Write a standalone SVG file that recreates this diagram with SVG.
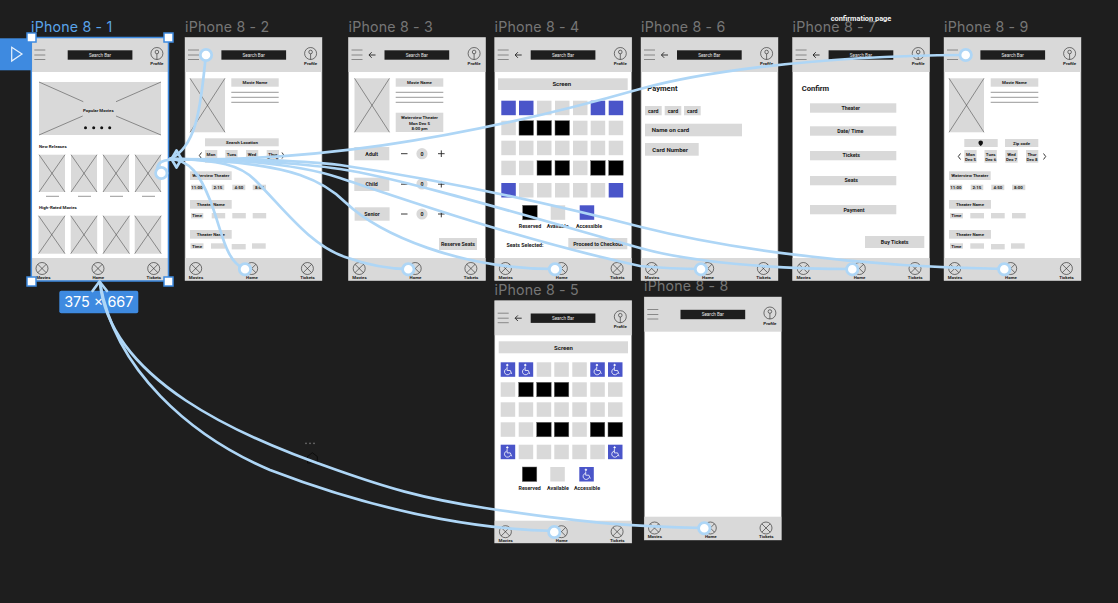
<svg xmlns="http://www.w3.org/2000/svg" width="1118" height="603" viewBox="0 0 1118 603">
<style>
text{font-family:"Roboto","Liberation Sans",sans-serif}
.lab{font-family:"Inter","Liberation Sans",sans-serif;font-size:14.2px;fill:#767676;letter-spacing:.2px}
.sel{fill:#5aa4ea}
.t{font-size:4.4px;font-weight:700;fill:#1a1a1a;text-anchor:middle}
.t5{font-size:5.3px;font-weight:700;fill:#1a1a1a;text-anchor:middle}
.t6{font-size:6px;font-weight:700;fill:#1a1a1a}
.h{font-size:7.6px;font-weight:700;fill:#1a1a1a}
.sb{font-size:4.6px;fill:#e6e6e6;text-anchor:middle}
.g{fill:#d9d9d9}
.w{fill:#fff}
.frame{fill:#fff;stroke:#8b8b8b;stroke-width:.7}
.l{fill:none;stroke:#444;stroke-width:.55}
.i{fill:none;stroke:#222;stroke-width:.6}
.op{fill:none;stroke:#222;stroke-width:.9}
.c{fill:none;stroke:#aed6f6;stroke-width:2.7;stroke-linecap:round;stroke-linejoin:round}
.hs{fill:#fff;stroke:#aed6f6;stroke-width:2.8}
.hd{fill:#fff;stroke:#3e8ae0;stroke-width:1.5}
</style>
<defs>
<g id="burger" class="l"><path d="M3 12.5H14M3 17.5H14M3 22H14"/></g>
<g id="back" class="op"><path d="M20.5 17.5H27M23.2 14.7L20.4 17.5L23.2 20.3"/></g>
<g id="prof" class="i"><circle cx="125.6" cy="16" r="6"/><circle cx="125.6" cy="14.5" r="1.8"/><path d="M125.6 16.3V22"/></g>
<g id="xc" class="i"><circle r="6"/><path d="M-4.2 -4.2L4.2 4.2M4.2 -4.2L-4.2 4.2"/></g>
<g id="poster"><rect class="g" width="35" height="54"/><path class="l" d="M0 0L35 54M35 0L0 54"/></g>
<g id="tile"><rect class="g" width="26" height="37.3"/><path class="l" d="M0 0L26 37.3M26 0L0 37.3"/></g>
<g id="tile2"><rect class="g" width="26.5" height="38"/><path class="l" d="M0 0L26.5 38M26.5 0L0 38"/></g>
<rect id="sg" class="g" width="14.5" height="14.5"/>
<rect id="sk" width="14.5" height="14.5" fill="#000" stroke="#666" stroke-width=".5"/>
<rect id="sb" width="14.5" height="14.5" fill="#4a55c9"/>
<g id="sw"><rect width="14.5" height="14.5" fill="#4a55c9"/><g transform="translate(7.2 7.4)" fill="none" stroke="#fff" stroke-width=".8"><circle cx="-.6" cy="-4.6" r=".8" fill="#fff"/><path d="M-.8 -3V.8H2.4L3.8 4.2"/><path d="M-1.2 -1A3.1 3.1 0 1 0 2.6 3"/></g></g>
</defs>
<rect width="1118" height="603" fill="#1e1e1e"/>
<text class="lab sel" x="31" y="32">iPhone 8 - 1</text>
<text class="lab" x="185" y="32">iPhone 8 - 2</text>
<text class="lab" x="348.5" y="32">iPhone 8 - 3</text>
<text class="lab" x="494.5" y="32">iPhone 8 - 4</text>
<text class="lab" x="641" y="32">iPhone 8 - 6</text>
<text class="lab" x="792.5" y="32">iPhone 8 - 7</text>
<text class="lab" x="944" y="32">iPhone 8 - 9</text>
<text class="lab" x="494.5" y="295">iPhone 8 - 5</text>
<text class="lab" x="644" y="291">iPhone 8 - 8</text>
<text x="861" y="20.5" font-size="7.4" font-weight="700" fill="#f2f2f2" text-anchor="middle">confirmation page</text>

<g id="iphone-8-1" transform="translate(31.3 37.5)">
<rect class="frame" width="137" height="243"/><rect class="g" width="137" height="34.5"/><rect class="g" y="220.5" width="137" height="22.5"/>
<use href="#burger"/><rect x="36.4" y="12.8" width="64.7" height="9.4" fill="#1e1e1e"/><text class="sb" x="68.7" y="19">Search Bar</text><use href="#prof"/><text class="t" x="125.6" y="27.5">Profile</text>
<use href="#xc" x="10.7" y="231"/><use href="#xc" x="66.7" y="231"/><use href="#xc" x="122.4" y="231"/><text class="t" x="12" y="241">Movies</text><text class="t" x="67" y="241">Home</text><text class="t" x="122.5" y="241">Tickets</text>
<g transform="translate(-31.3 -37.5)">
<rect class="g" x="39" y="82" width="122" height="53"/><path class="l" d="M39 82L83.3 101.7M161 82L116 101.7M39 135L82.7 116M161 135L116 116"/>
<text class="t" x="98.3" y="111.5">Popular Movies</text>
<g fill="#111"><circle cx="85.5" cy="127.7" r="1.5"/><circle cx="93.7" cy="127.7" r="1.5"/><circle cx="101.7" cy="127.7" r="1.5"/><circle cx="109.7" cy="127.7" r="1.5"/></g>
<text class="t" x="39" y="148" style="text-anchor:start">New Releases</text>
<use href="#tile" x="39" y="154.7"/><use href="#tile" x="71" y="154.7"/><use href="#tile" x="103" y="154.7"/><use href="#tile" x="135" y="154.7"/>
<path class="l" d="M46 196.3H59M78 196.3H91M110 196.3H123M142 196.3H155"/>
<text class="t" x="39" y="209" style="text-anchor:start">High-Rated Movies</text>
<use href="#tile2" x="38.5" y="215.7"/><use href="#tile2" x="70.7" y="215.7"/><use href="#tile2" x="103" y="215.7"/><use href="#tile2" x="134.7" y="215.7"/>
</g>
</g>

<g id="iphone-8-2">
<g transform="translate(185 37.5)">
<rect class="frame" width="137" height="243"/><rect class="g" width="137" height="34.5"/><rect class="g" y="220.5" width="137" height="22.5"/>
<use href="#burger"/><rect x="36.4" y="12.8" width="64.7" height="9.4" fill="#1e1e1e"/><text class="sb" x="68.7" y="19">Search Bar</text><use href="#prof"/><text class="t" x="125.6" y="27.5">Profile</text>
<use href="#xc" x="10.7" y="231"/><use href="#xc" x="66.7" y="231"/><use href="#xc" x="122.4" y="231"/><text class="t" x="11" y="241">Movies</text><text class="t" x="67" y="241">Home</text><text class="t" x="122.5" y="241">Tickets</text>
</g>
<use href="#poster" x="190" y="78.3"/>
<rect class="g" x="231.3" y="78.3" width="47.4" height="8.4"/><text class="t" x="255" y="84">Movie Name</text>
<path class="l" d="M231.3 92.3H278.7M231.3 97.3H278.7M231.3 102.3H278.7"/>
<rect class="g" x="205" y="138.3" width="73.7" height="8"/><text class="t" x="242" y="144">Search Location</text>
<path class="op" d="M201.5 152.5L199.3 155.5L201.5 158.5M282 152.5L284 155.5L282 158.5"/>
<rect class="g" x="205" y="150" width="12.3" height="12.7"/><rect class="g" x="225.3" y="150" width="12.3" height="12.7"/><rect class="g" x="246" y="150" width="12.3" height="12.7"/><rect class="g" x="266.7" y="150" width="12.3" height="12.7"/>
<text class="t" x="211" y="155.5">Mon</text><text class="t" x="211" y="160.5">Dec 5</text><text class="t" x="231.5" y="155.5">Tues</text><text class="t" x="231.5" y="160.5">Dec 6</text><text class="t" x="252" y="155.5">Wed</text><text class="t" x="252" y="160.5">Dec 7</text><text class="t" x="272.8" y="155.5">Thur</text><text class="t" x="272.8" y="160.5">Dec 8</text>
<rect class="g" x="190" y="171.3" width="41.7" height="8.7"/><text class="t" x="210.8" y="177.3">Waterview Theater</text>
<rect class="g" x="191" y="184.7" width="12.3" height="5.4"/><rect class="g" x="211.7" y="184.7" width="12.6" height="5.4"/><rect class="g" x="232.3" y="184.7" width="13" height="5.4"/><rect class="g" x="252.7" y="184.7" width="13.3" height="5.4"/>
<text class="t" x="197" y="189">11:00</text><text class="t" x="218" y="189">2:15</text><text class="t" x="238.8" y="189">4:50</text><text class="t" x="259.3" y="189">8:00</text>
<rect class="g" x="190" y="200" width="41.7" height="8.7"/><text class="t" x="210.8" y="206">Theater Name</text>
<rect class="g" x="191" y="213" width="12.3" height="5.4"/><rect class="g" x="211.7" y="213" width="13.5" height="5.4"/><rect class="g" x="232.3" y="213" width="13.5" height="5.4"/><rect class="g" x="252.7" y="213" width="13.5" height="5.4"/><text class="t" x="197" y="217.3">Time</text>
<rect class="g" x="190" y="230" width="41.7" height="8.7"/><text class="t" x="210.8" y="236">Theater Name</text>
<rect class="g" x="190.5" y="243.3" width="13" height="5.4"/><rect class="g" x="211" y="243.3" width="14" height="5.4"/><rect class="g" x="231.7" y="244" width="14" height="5.4"/><rect class="g" x="252" y="243.3" width="13.7" height="5.4"/><text class="t" x="197" y="247.6">Time</text>
</g>

<g id="iphone-8-3">
<g transform="translate(348.5 37.5)">
<rect class="frame" width="137" height="243"/><rect class="g" width="137" height="34.5"/><rect class="g" y="220.5" width="137" height="22.5"/>
<use href="#burger"/><use href="#back"/><rect x="36" y="12.8" width="64.7" height="9.4" fill="#1e1e1e"/><text class="sb" x="68.3" y="19">Search Bar</text><use href="#prof"/><text class="t" x="125.6" y="27.5">Profile</text>
<use href="#xc" x="10.7" y="231"/><use href="#xc" x="66.7" y="231"/><use href="#xc" x="122.4" y="231"/><text class="t" x="11" y="241">Movies</text><text class="t" x="67" y="241">Home</text><text class="t" x="122.5" y="241">Tickets</text>
</g>
<use href="#poster" x="354.5" y="78.3"/>
<rect class="g" x="395.7" y="78.3" width="47.6" height="8.4"/><text class="t" x="419.5" y="84">Movie Name</text>
<path class="l" d="M395.7 92.3H443.3M395.7 97.3H443.3M395.7 102.3H443.3"/>
<rect class="g" x="395.7" y="112.7" width="47.6" height="19.3"/><text class="t" x="419.5" y="119.2" font-size="4.6">Waterview Theater</text><text class="t" x="419.5" y="124.8">Mon Dec 5</text><text class="t" x="419.5" y="130">8:00 pm</text>
<rect class="g" x="354.3" y="147" width="35" height="13.3"/><text class="t5" x="371.7" y="155.5">Adult</text>
<rect class="g" x="354.3" y="177.7" width="35" height="13.3"/><text class="t5" x="371.7" y="186">Child</text>
<rect class="g" x="354.6" y="207.3" width="35" height="13.4"/><text class="t5" x="372" y="216">Senior</text>
<g class="op"><path d="M401 153.7H407.5M438 153.7H444.6M441.3 150.4V157M401 184.2H407.5M438 184.2H444.6M441.3 180.9V187.5M401 214H407.5M438 214H444.6M441.3 210.7V217.3"/></g>
<circle class="g" cx="422" cy="153.7" r="5.6"/><circle class="g" cx="422" cy="184" r="5.6"/><circle class="g" cx="422" cy="214" r="5.6"/>
<text class="t5" x="422" y="155.6">0</text><text class="t5" x="422" y="186">0</text><text class="t5" x="422" y="216">0</text>
<rect class="g" x="439" y="238" width="38" height="12"/><text class="t5" x="458" y="246">Reserve Seats</text>
</g>

<g id="iphone-8-4">
<g transform="translate(494.7 37.5)">
<rect class="frame" width="137" height="243"/><rect class="g" width="137" height="34.5"/><rect class="g" y="220.5" width="137" height="22.5"/>
<use href="#burger"/><use href="#back"/><rect x="36" y="12.8" width="64.7" height="9.4" fill="#1e1e1e"/><text class="sb" x="68.3" y="19">Search Bar</text><use href="#prof"/><text class="t" x="125.6" y="27.5">Profile</text>
<use href="#xc" x="10.7" y="231"/><use href="#xc" x="66.7" y="231"/><use href="#xc" x="122.4" y="231"/><text class="t" x="11" y="241">Movies</text><text class="t" x="67" y="241">Home</text><text class="t" x="122.5" y="241">Tickets</text>
</g>
<rect class="g" x="498" y="78.3" width="129.7" height="11.7"/><text class="t6" x="561.8" y="86.3" text-anchor="middle">Screen</text>
<use href="#sb" x="501.3" y="100.7"/><use href="#sb" x="519" y="100.7"/><use href="#sg" x="537" y="100.7"/><use href="#sg" x="555" y="100.7"/><use href="#sg" x="573" y="100.7"/><use href="#sb" x="590.7" y="100.7"/><use href="#sb" x="608.7" y="100.7"/>
<use href="#sg" x="501.3" y="120.7"/><use href="#sk" x="519" y="120.7"/><use href="#sk" x="537" y="120.7"/><use href="#sk" x="555" y="120.7"/><use href="#sg" x="573" y="120.7"/><use href="#sg" x="590.7" y="120.7"/><use href="#sg" x="608.7" y="120.7"/>
<use href="#sg" x="501.3" y="140.7"/><use href="#sg" x="519" y="140.7"/><use href="#sg" x="537" y="140.7"/><use href="#sg" x="555" y="140.7"/><use href="#sg" x="573" y="140.7"/><use href="#sg" x="590.7" y="140.7"/><use href="#sg" x="608.7" y="140.7"/>
<use href="#sg" x="501.3" y="160.7"/><use href="#sg" x="519" y="160.7"/><use href="#sk" x="537" y="160.7"/><use href="#sk" x="555" y="160.7"/><use href="#sg" x="573" y="160.7"/><use href="#sk" x="590.7" y="160.7"/><use href="#sk" x="608.7" y="160.7"/>
<use href="#sb" x="501.3" y="183"/><use href="#sg" x="519" y="183"/><use href="#sg" x="537" y="183"/><use href="#sg" x="555" y="183"/><use href="#sg" x="573" y="183"/><use href="#sg" x="590.7" y="183"/><use href="#sb" x="608.7" y="183"/>
<use href="#sk" x="522.7" y="205.3"/><use href="#sg" x="550.7" y="205.3"/><use href="#sb" x="579.7" y="205.3"/>
<text class="t5" x="530" y="227.7">Reserved</text><text class="t5" x="557.7" y="227.7">Available</text><text class="t5" x="589" y="227.7">Accessible</text>
<text class="t5" x="525" y="246.8">Seats Selected:</text>
<rect class="g" x="568.3" y="238" width="59" height="11.3"/><text class="t5" x="598" y="245.8">Proceed to Checkout</text>
</g>

<g id="iphone-8-5">
<g transform="translate(494.7 300.7)">
<rect class="frame" width="137" height="242.3"/><rect class="g" width="137" height="34.6"/><rect class="g" y="220" width="137" height="22.3"/>
<use href="#burger"/><use href="#back"/><rect x="36" y="12.8" width="64.7" height="9.4" fill="#1e1e1e"/><text class="sb" x="68.3" y="19">Search Bar</text><use href="#prof"/><text class="t" x="125.6" y="27.5">Profile</text>
<use href="#xc" x="10.7" y="231"/><use href="#xc" x="66.7" y="231"/><use href="#xc" x="122.4" y="231"/><text class="t" x="11" y="241">Movies</text><text class="t" x="67" y="241">Home</text><text class="t" x="122.5" y="241">Tickets</text>
</g>
<rect class="g" x="498.7" y="341.3" width="129.3" height="12"/><text class="t6" x="563.5" y="349.5" text-anchor="middle">Screen</text>
<use href="#sw" x="500.7" y="362.3"/><use href="#sw" x="518.7" y="362.3"/><use href="#sg" x="536.7" y="362.3"/><use href="#sg" x="554.3" y="362.3"/><use href="#sg" x="572.3" y="362.3"/><use href="#sw" x="590.3" y="362.3"/><use href="#sw" x="608" y="362.3"/>
<use href="#sg" x="500.7" y="382.3"/><use href="#sk" x="518.7" y="382.3"/><use href="#sk" x="536.7" y="382.3"/><use href="#sk" x="554.3" y="382.3"/><use href="#sg" x="572.3" y="382.3"/><use href="#sg" x="590.3" y="382.3"/><use href="#sg" x="608" y="382.3"/>
<use href="#sg" x="500.7" y="402.3"/><use href="#sg" x="518.7" y="402.3"/><use href="#sg" x="536.7" y="402.3"/><use href="#sg" x="554.3" y="402.3"/><use href="#sg" x="572.3" y="402.3"/><use href="#sg" x="590.3" y="402.3"/><use href="#sg" x="608" y="402.3"/>
<use href="#sg" x="500.7" y="422.3"/><use href="#sg" x="518.7" y="422.3"/><use href="#sk" x="536.7" y="422.3"/><use href="#sk" x="554.3" y="422.3"/><use href="#sg" x="572.3" y="422.3"/><use href="#sk" x="590.3" y="422.3"/><use href="#sk" x="608" y="422.3"/>
<use href="#sw" x="500.7" y="444.7"/><use href="#sg" x="518.7" y="444.7"/><use href="#sg" x="536.7" y="444.7"/><use href="#sg" x="554.3" y="444.7"/><use href="#sg" x="572.3" y="444.7"/><use href="#sg" x="590.3" y="444.7"/><use href="#sw" x="608" y="444.7"/>
<use href="#sk" x="522.3" y="467"/><use href="#sg" x="550.3" y="467"/><use href="#sw" x="579.3" y="467"/>
<text class="t5" x="529.7" y="489.7">Reserved</text><text class="t5" x="558" y="489.7">Available</text><text class="t5" x="587" y="489.7">Accessible</text>
</g>

<g id="iphone-8-6">
<g transform="translate(641 37.5)">
<rect class="frame" width="137" height="243"/><rect class="g" width="137" height="34.5"/><rect class="g" y="220.5" width="137" height="22.5"/>
<use href="#burger"/><use href="#back"/><rect x="36" y="12.8" width="64.7" height="9.4" fill="#1e1e1e"/><text class="sb" x="68.3" y="19">Search Bar</text><use href="#prof"/><text class="t" x="125.6" y="27.5">Profile</text>
<use href="#xc" x="10.7" y="231"/><use href="#xc" x="66.7" y="231"/><use href="#xc" x="122.4" y="231"/><text class="t" x="11" y="241">Movies</text><text class="t" x="67" y="241">Home</text><text class="t" x="122.5" y="241">Tickets</text>
</g>
<text class="h" x="647.3" y="90.5">Payment</text>
<rect class="g" x="645" y="106" width="16.7" height="9.3"/><rect class="g" x="664.7" y="106" width="16.6" height="9.3"/><rect class="g" x="684" y="106" width="16.7" height="9.3"/>
<text class="t5" x="653.3" y="112.8">card</text><text class="t5" x="673" y="112.8">card</text><text class="t5" x="692.3" y="112.8">card</text>
<rect class="g" x="645" y="123.7" width="97" height="12.6"/><text class="t6" x="651.7" y="131.6" font-size="5.4">Name on card</text>
<rect class="g" x="645" y="143" width="53.7" height="12.7"/><text class="t6" x="652.3" y="151.5" font-size="5.4">Card Number</text>
</g>

<g id="iphone-8-7">
<g transform="translate(792.6 37.5)">
<rect class="frame" width="137" height="243"/><rect class="g" width="137" height="34.5"/><rect class="g" y="220.5" width="137" height="22.5"/>
<use href="#burger"/><use href="#back"/><rect x="36" y="12.8" width="64.7" height="9.4" fill="#1e1e1e"/><text class="sb" x="68.3" y="19">Search Bar</text><use href="#prof"/><text class="t" x="125.6" y="27.5">Profile</text>
<use href="#xc" x="10.7" y="231"/><use href="#xc" x="66.7" y="231"/><use href="#xc" x="122.4" y="231"/><text class="t" x="11" y="241">Movies</text><text class="t" x="67" y="241">Home</text><text class="t" x="122.5" y="241">Tickets</text>
</g>
<text class="h" x="801.7" y="91">Confirm</text>
<rect class="g" x="810" y="103.3" width="86.3" height="9.4"/><text class="t5" x="850.7" y="109.7">Theater</text>
<rect class="g" x="810" y="126.3" width="86.3" height="9.4"/><text class="t5" x="850.3" y="132.7">Date/ Time</text>
<rect class="g" x="810" y="151" width="86.3" height="9.3"/><text class="t5" x="851.3" y="157.3">Tickets</text>
<rect class="g" x="810" y="176" width="86.3" height="9.3"/><text class="t5" x="851.3" y="182">Seats</text>
<rect class="g" x="810" y="205" width="86.3" height="9.3"/><text class="t5" x="854" y="211.7">Payment</text>
<rect class="g" x="865" y="236" width="59.3" height="12"/><text class="t5" x="894.7" y="244">Buy Tickets</text>
</g>

<g id="iphone-8-8">
<g transform="translate(644.3 297)">
<rect class="frame" width="137" height="243"/><rect class="g" width="137" height="34.7"/><rect class="g" y="219.7" width="137" height="23.3"/>
<use href="#burger"/><rect x="36.2" y="12.8" width="64.7" height="9.4" fill="#1e1e1e"/><text class="sb" x="68.5" y="19">Search Bar</text><use href="#prof"/><text class="t" x="125.6" y="27.5">Profile</text>
<use href="#xc" x="10.2" y="231"/><use href="#xc" x="66" y="231"/><use href="#xc" x="121.7" y="231"/><text class="t" x="10.5" y="241">Movies</text><text class="t" x="66.5" y="241">Home</text><text class="t" x="122" y="241">Tickets</text>
</g>
</g>

<g id="iphone-8-9">
<g transform="translate(944 37.5)">
<rect class="frame" width="137" height="243"/><rect class="g" width="137" height="34.5"/><rect class="g" y="220.5" width="137" height="22.5"/>
<use href="#burger"/><rect x="36.4" y="12.8" width="64.7" height="9.4" fill="#1e1e1e"/><text class="sb" x="68.7" y="19">Search Bar</text><use href="#prof"/><text class="t" x="125.6" y="27.5">Profile</text>
<use href="#xc" x="10.7" y="231"/><use href="#xc" x="66.7" y="231"/><use href="#xc" x="122.4" y="231"/><text class="t" x="11" y="241">Movies</text><text class="t" x="67" y="241">Home</text><text class="t" x="122.5" y="241">Tickets</text>
</g>
<use href="#poster" x="949" y="78.3"/>
<rect class="g" x="990.7" y="78.3" width="47.6" height="8.4"/><text class="t" x="1014.5" y="84">Movie Name</text>
<path class="l" d="M990.7 92.3H1038.3M990.7 97.3H1038.3M990.7 102.3H1038.3"/>
<rect class="g" x="964.3" y="139" width="33.4" height="8"/><path fill="#111" d="M980.7 140.5a2.3 2.3 0 0 1 2.3 2.3c0 1.5 -2.3 3.2 -2.3 3.2s-2.3 -1.7 -2.3 -3.2a2.3 2.3 0 0 1 2.3 -2.3z"/>
<rect class="g" x="1005" y="139" width="33.3" height="8"/><text class="t" x="1021.5" y="144.8">Zip code</text>
<path class="op" d="M960.5 153.5L958.3 156.5L960.5 159.5M1043.5 153.5L1045.7 156.5L1043.5 159.5"/>
<rect class="g" x="964.3" y="150" width="12.3" height="12.7"/><rect class="g" x="984.5" y="150" width="12.3" height="12.7"/><rect class="g" x="1005.3" y="150" width="12.3" height="12.7"/><rect class="g" x="1026" y="150" width="12.3" height="12.7"/>
<text class="t" x="970.5" y="155.5">Mon</text><text class="t" x="970.5" y="160.5">Dec 5</text><text class="t" x="990.7" y="155.5">Tues</text><text class="t" x="990.7" y="160.5">Dec 6</text><text class="t" x="1011.5" y="155.5">Wed</text><text class="t" x="1011.5" y="160.5">Dec 7</text><text class="t" x="1032" y="155.5">Thur</text><text class="t" x="1032" y="160.5">Dec 8</text>
<rect class="g" x="949" y="171.3" width="41.7" height="8.7"/><text class="t" x="969.8" y="177.3">Waterview Theater</text>
<rect class="g" x="950" y="184.7" width="12.3" height="5.4"/><rect class="g" x="970.7" y="184.7" width="12.6" height="5.4"/><rect class="g" x="991.3" y="184.7" width="13" height="5.4"/><rect class="g" x="1012" y="184.7" width="13.3" height="5.4"/>
<text class="t" x="956" y="189">11:00</text><text class="t" x="977" y="189">2:15</text><text class="t" x="997.8" y="189">4:50</text><text class="t" x="1018.5" y="189">8:00</text>
<rect class="g" x="949" y="200" width="42" height="8.7"/><text class="t" x="970" y="206">Theater Name</text>
<rect class="g" x="950" y="213" width="13" height="5.4"/><rect class="g" x="970.3" y="213" width="13.7" height="5.4"/><rect class="g" x="991" y="213" width="13.7" height="5.4"/><rect class="g" x="1012" y="213" width="13.7" height="5.4"/><text class="t" x="956.3" y="217.3">Time</text>
<rect class="g" x="949" y="230" width="42" height="8.7"/><text class="t" x="970" y="236">Theater Name</text>
<rect class="g" x="950" y="243.3" width="13" height="5.4"/><rect class="g" x="970.3" y="243.3" width="13.7" height="5.4"/><rect class="g" x="991" y="244" width="13.7" height="5.4"/><rect class="g" x="1011" y="243.3" width="13.7" height="5.4"/><text class="t" x="956.3" y="247.6">Time</text>
</g>

<g id="canvas-cursor">
<g fill="#6e6e6e"><circle cx="306" cy="443.3" r=".9"/><circle cx="310" cy="443.3" r=".9"/><circle cx="314" cy="443.3" r=".9"/></g>
<path d="M312.3 452.7L307.5 456.5V463H317.3V456.5Z" fill="none" stroke="#0c0c0c" stroke-width="1"/>
</g>

<g id="selection">
<rect x="31.3" y="37.5" width="137.2" height="243.5" fill="none" stroke="#3e8ae0" stroke-width="1.5"/>
<rect x="0" y="38.3" width="31" height="32" fill="#3e8ae0"/>
<path d="M11.7 47.3L22 54L11.7 61Z" fill="none" stroke="#e8f2fd" stroke-width="1.2"/>
<rect x="59.3" y="290.7" width="79" height="22.6" rx="2" fill="#3e8ae0"/>
<text x="98.8" y="307.3" font-size="14.4" fill="#fff" text-anchor="middle" style="font-family:'Inter','Liberation Sans',sans-serif">375 × 667</text>
</g>

<g id="connectors">
<path class="c" d="M158 172C155 162 162 159 184 159"/>
<path class="c" d="M206 55C201 95 200 145 170 159"/>
<path class="c" d="M245 269C225 262 222 230 210 200C200 175 190 160 170 159"/>
<path class="c" d="M408 269C385 269 365 264 345 257C310 245 285 210 255 180C240 165 220 160 170 159"/>
<path class="c" d="M555 269C460 269 380 235 345 202C335 192 320 182 300 175C270 165 220 160 170 159"/>
<path class="c" d="M703 269C680 269 660 268 640 266C520 240 400 198 340 178C295 163 230 159 170 159"/>
<path class="c" d="M853 269C770 269 690 262 640 248C520 214 400 178 340 169C300 163 230 159 170 159"/>
<path class="c" d="M1005 269C850 267 720 247 640 226.7C540 201 440 180 340 165C300 160 230 159 170 159"/>
<path class="c" d="M965 55C800 56 690 75 640 89C450 143 300 162 170 159"/>
<path class="c" d="M555 531C500 530 400 520 270 470C190 436 115 370 100 283"/>
<path class="c" d="M704 528C640 527 590 524 485 508C420 498 385 487 336.7 470C240 437 110 380 100 283"/>
<path class="c" d="M176.5 150.5L171.5 159L176.5 167.5L181.5 159Z"/>
<path class="c" d="M92.5 291L99.5 281.5L107 291"/>
</g>

<g id="hotspots" class="hs">
<circle cx="161.3" cy="173" r="5.7"/><circle cx="206" cy="55" r="5.7"/><circle cx="245" cy="269.3" r="5.7"/><circle cx="408.3" cy="269.3" r="5.7"/><circle cx="555" cy="269.3" r="5.7"/><circle cx="701" cy="269.3" r="5.7"/><circle cx="852.3" cy="269.3" r="5.7"/><circle cx="965.7" cy="55" r="5.7"/><circle cx="1004.3" cy="269.3" r="5.7"/><circle cx="554.3" cy="532" r="5.7"/><circle cx="704.3" cy="528.3" r="5.7"/>
</g>

<g id="handles">
<rect class="hd" x="27" y="33" width="9" height="9"/><rect class="hd" x="164" y="33" width="9" height="9"/><rect class="hd" x="27" y="277" width="9" height="9"/><rect class="hd" x="164" y="277" width="9" height="9"/>
</g>
</svg>
